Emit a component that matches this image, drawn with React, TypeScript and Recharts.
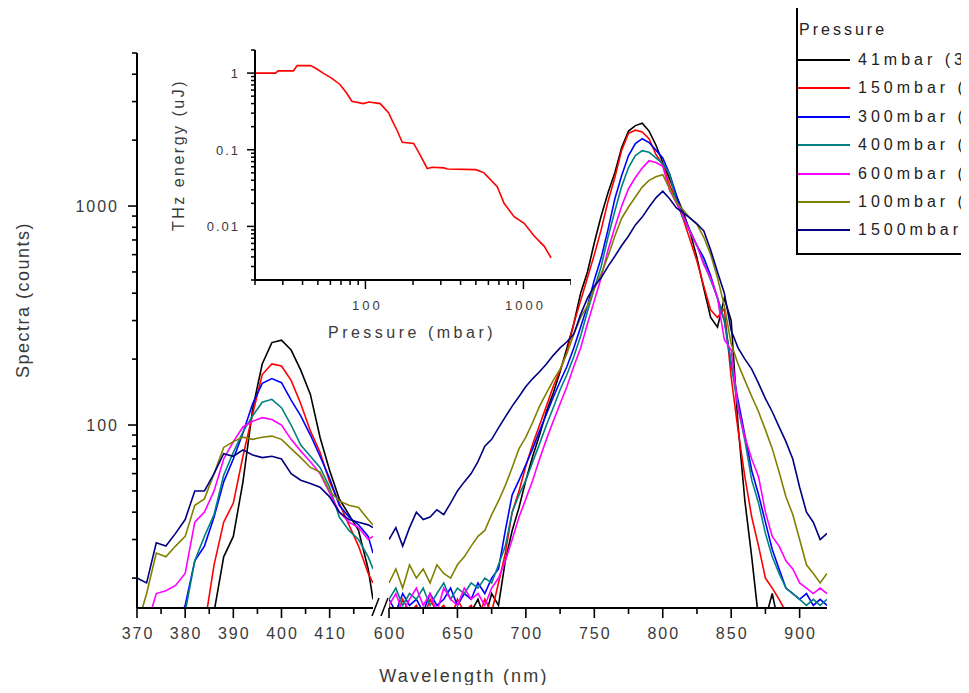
import React from 'react';
import { LineChart, Line, XAxis, YAxis } from 'recharts';

const FONT = '"Liberation Sans", Arial, sans-serif';
const TEXT = '#3a3a3a';

// series, in legend order
const seriesKeys = ['p41', 'p150', 'p300', 'p400', 'p600', 'p1000', 'p1500'];
const seriesNames = ['41mbar (3', '150mbar (', '300mbar (', '400mbar (', '600mbar (', '100mbar (', '1500mbar'];
const seriesColors = ['#000000', '#ff0000', '#0000ff', '#008080', '#ff00ff', '#808000', '#000080'];

// left piece of the broken axis (370-419 nm)
const leftWavelengths = [370, 372, 374, 376, 378, 380, 382, 384, 386, 388, 390, 392, 394, 396, 398, 400, 402, 404, 406, 408, 410, 412, 414, 416, 418, 419];
const left41 = [12, 12, 12, 12, 12, 12, 12, 12, 14, 25, 31, 55, 118, 190, 238, 244, 220, 178, 138, 88, 62, 46, 39, 33, 22, 16];
const left150 = [12, 12, 12, 12, 12, 12, 12, 12, 23, 36, 44, 72, 112, 170, 190, 186, 160, 125, 94, 75, 55, 44, 35, 28, 21, 19];
const left300 = [12, 12, 12, 12, 12, 15, 24, 28, 38, 55, 70, 92, 125, 155, 163, 156, 130, 110, 90, 72, 57, 43, 38, 35, 31, 26];
const left400 = [12, 12, 12, 12, 12, 14, 24, 31, 39, 59, 75, 93, 110, 127, 131, 120, 100, 81, 72, 64, 52, 38, 33, 30, 25, 22];
const left600 = [12, 12, 17, 17.5, 18.5, 21, 36, 40, 50, 70, 84, 98, 104, 108, 106, 100, 86, 76, 68, 60, 49, 40, 36, 34, 30, 31];
const left1000 = [12, 17, 26, 25, 28, 31, 43, 46, 60, 79, 84, 88, 86, 88, 89, 86, 78, 71, 64, 61, 50, 45, 43, 42, 37, 35];
const left1500 = [20, 19, 29, 28, 32, 37, 50, 50, 60, 74, 72, 77, 73, 71, 72, 70, 60, 56, 54, 52, 47, 40, 37, 36, 35, 34];

// right piece (600-920 nm)
const rightWavelengths = [
  600, 605, 610, 615, 620, 625, 630, 635, 640, 645,
  650, 655, 660, 665, 670, 675, 680, 685, 690, 695,
  700, 705, 710, 715, 720, 725, 730, 735, 740, 745,
  750, 755, 760, 765, 770, 775, 780, 785, 790, 795,
  800, 805, 810, 815, 820, 825, 830, 835, 840, 845,
  850, 855, 860, 865, 870, 875, 880, 885, 890, 895,
  900, 905, 910, 915, 920,
];
const right41 = [
  12, 13, 12, 13, 12, 14, 12, 13, 12, 14,
  13, 12, 14, 16, 13, 17, 15, 24, 33, 42,
  56, 72, 90, 115, 140, 175, 225, 290, 400, 500,
  680, 900, 1150, 1420, 1850, 2200, 2330, 2390, 2200, 1900,
  1580, 1330, 1110, 940, 760, 580, 420, 310, 280, 380,
  300, 100, 45, 25, 13, 13, 17, 12, 12, 12,
  12, 12, 12, 12, 12,
];
const right150 = [
  15, 13, 16, 14, 15, 13, 16, 14, 15, 13,
  16, 14, 15, 13, 16, 14, 19, 26, 40, 50,
  65, 82, 100, 122, 150, 178, 215, 290, 370, 470,
  600, 780, 1050, 1350, 1800, 2150, 2220, 2180, 2030, 1720,
  1540, 1250, 1060, 870, 700, 560, 430, 335, 310, 340,
  165, 95, 58, 38, 28, 20, 18, 16, 14, 13,
  13, 14, 12, 13, 12,
];
const right300 = [
  16, 14, 17, 15, 16, 14, 17, 15, 16, 18,
  15, 17, 16, 19, 17, 20, 22, 33, 48, 56,
  66, 78, 94, 112, 134, 158, 185, 225, 280, 350,
  460, 580, 780, 1080, 1380, 1700, 1930, 2030, 1950, 1800,
  1660, 1400, 1120, 900, 770, 660, 580, 480, 380, 300,
  190, 130, 90, 62, 48, 36, 27, 22, 18, 17,
  16, 17, 15, 16, 15,
];
const right400 = [
  16, 18, 15, 17, 16, 18, 15, 17, 19, 16,
  18, 17, 19, 18, 20, 19, 23, 28, 40, 48,
  56, 68, 82, 100, 120, 145, 170, 205, 255, 330,
  420, 530, 720, 950, 1230, 1500, 1700, 1790, 1760, 1660,
  1560, 1400, 1050, 880, 760, 660, 550, 460, 380, 300,
  190, 120, 85, 56, 44, 32, 25, 21, 18, 17,
  16, 15, 16, 15, 16,
];
const right600 = [
  15, 17, 14, 16, 18, 15, 17, 14, 18, 16,
  15, 18, 16, 17, 15, 18, 20, 24, 30, 38,
  46, 56, 70, 86, 104, 125, 150, 185, 225, 290,
  370, 470, 630, 800, 1000, 1200, 1350, 1490, 1610, 1580,
  1520, 1180, 1030, 900, 760, 660, 540, 470, 380, 245,
  220, 120, 88, 70, 58, 40, 31, 28, 24, 22,
  19, 18, 17, 18, 17,
];
const right1000 = [
  19, 22, 18, 23, 20, 22, 19, 23, 21, 20,
  23, 25, 28, 31, 33, 39, 45, 53, 64, 78,
  88, 103, 122, 140, 160, 180, 212, 260, 310, 350,
  420, 490, 590, 730, 880, 990, 1100, 1220, 1310, 1360,
  1390, 1200, 1040, 960, 880, 825, 720, 600, 470, 350,
  235, 190, 160, 135, 115, 95, 78, 61, 47, 39,
  30, 23, 21, 19, 21,
];
const right1500 = [
  30, 34, 28, 34, 40, 37, 38, 41, 39, 44,
  50, 55, 60, 68, 80, 86, 97, 109, 122, 135,
  150, 163, 175, 190, 208, 225, 240, 260, 320, 380,
  430, 470, 530, 590, 660, 730, 820, 890, 990, 1090,
  1170, 1080, 980, 930, 880, 830, 770, 630, 500, 400,
  270, 225, 200, 180, 155, 132, 115, 98, 84, 70,
  52, 40, 36, 30, 32,
];

// inset: THz energy against pressure
const insetPressure = [20, 27, 28, 35, 37, 45, 49, 54, 61, 69, 76, 82, 97, 105, 124, 140, 148, 159, 171, 202, 223, 246, 265, 314, 330, 500, 563, 683, 754, 873, 1010, 1170, 1355, 1495];
const insetEnergy = [1.0, 1.0, 1.07, 1.07, 1.25, 1.25, 1.14, 1.0, 0.86, 0.71, 0.55, 0.43, 0.4, 0.42, 0.4, 0.305, 0.238, 0.177, 0.125, 0.121, 0.084, 0.057, 0.059, 0.058, 0.056, 0.055, 0.05, 0.033, 0.02, 0.0134, 0.011, 0.0075, 0.0055, 0.0039];

// ticks
const yTicks = [20, 30, 40, 50, 60, 70, 80, 90, 100, 200, 300, 400, 500, 600, 700, 800, 900, 1000, 2000, 3000, 4000, 5000];
const leftXTicks = [370, 375, 380, 385, 390, 395, 400, 405, 410, 415];
const rightXTicks = [600, 625, 650, 675, 700, 725, 750, 775, 800, 825, 850, 875, 900];
const insetXTicks = [20, 30, 40, 50, 60, 70, 80, 90, 100, 200, 300, 400, 500, 600, 700, 800, 900, 1000, 2000];
const insetYTicks = [0.002, 0.003, 0.004, 0.005, 0.006, 0.007, 0.008, 0.009, 0.01, 0.02, 0.03, 0.04, 0.05, 0.06, 0.07, 0.08, 0.09, 0.1, 0.2, 0.3, 0.4, 0.5, 0.6, 0.7, 0.8, 0.9, 1, 2];

const leftSeries = [left41, left150, left300, left400, left600, left1000, left1500];
const rightSeries = [right41, right150, right300, right400, right600, right1000, right1500];

function buildRows(wl: number[], series: number[][]) {
  return wl.map((w, i) => {
    const row: any = { w };
    seriesKeys.forEach((k, j) => { row[k] = series[j][i]; });
    return row;
  });
}

const leftData = buildRows(leftWavelengths, leftSeries);
const rightData = buildRows(rightWavelengths, rightSeries);
const insetData = insetPressure.map((p, i) => ({ p, e: insetEnergy[i] }));

const isDecade = (v: number) => Math.abs(Math.log10(v) - Math.round(Math.log10(v))) < 1e-6;

const textStyle = { fontFamily: FONT, fill: TEXT };

const renderXTick = (step: number) => (props: any) => {
  const { x, y, payload } = props;
  const major = payload.value % step === 0;
  return (
    <g>
      <line x1={x} x2={x} y1={y} y2={y + (major ? 10 : 6)} stroke="#000" strokeWidth={1.6} />
      {major && (
        <text x={x + 1} y={y + 31} textAnchor="middle" fontSize={16} letterSpacing={2} {...textStyle}>
          {payload.value}
        </text>
      )}
    </g>
  );
};

const renderYTick = (props: any) => {
  const { x, y, payload } = props;
  const major = isDecade(payload.value);
  return (
    <g>
      <line x1={x} x2={x - (major ? 9 : 5)} y1={y} y2={y} stroke="#000" strokeWidth={1.6} />
      {major && (
        <text x={x - 18} y={y + 6} textAnchor="end" fontSize={16} letterSpacing={2} {...textStyle}>
          {payload.value}
        </text>
      )}
    </g>
  );
};

const renderInsetXTick = (props: any) => {
  const { x, y, payload } = props;
  const major = isDecade(payload.value);
  return (
    <g>
      <line x1={x} x2={x} y1={y} y2={y + (major ? 9 : 5)} stroke="#000" strokeWidth={1.5} />
      {major && payload.value !== 20 && (
        <text x={x + 2} y={y + 30} textAnchor="middle" fontSize={13} letterSpacing={3} {...textStyle}>
          {payload.value}
        </text>
      )}
    </g>
  );
};

const renderInsetYTick = (props: any) => {
  const { x, y, payload } = props;
  const major = isDecade(payload.value);
  return (
    <g>
      <line x1={x} x2={x - (major ? 8 : 4)} y1={y} y2={y} stroke="#000" strokeWidth={1.5} />
      {major && payload.value < 2 && (
        <text x={x - 15} y={y + 5} textAnchor="end" fontSize={13} letterSpacing={2} {...textStyle}>
          {String(payload.value)}
        </text>
      )}
    </g>
  );
};

const axisLine = { stroke: '#000', strokeWidth: 2 };
const Y_DOMAIN: [number, number] = [14.6, 5000];

export default function App() {
  return (
    <div style={{ position: 'relative', margin: -8, width: 969, height: 693, overflow: 'hidden', background: '#fff', fontFamily: FONT }}>
      {/* left piece, carries the Y axis */}
      <div style={{ position: 'absolute', left: 0, top: 0 }}>
        <LineChart width={373} height={693} data={leftData} margin={{ top: 53, right: 0, bottom: 25, left: 0 }}>
          <XAxis
            dataKey="w"
            type="number"
            domain={[370, 419]}
            allowDataOverflow
            ticks={leftXTicks}
            interval={0}
            tickSize={0}
            tickMargin={0}
            tickLine={false}
            axisLine={axisLine}
            height={60}
            tick={renderXTick(10)}
          />
          <YAxis
            type="number"
            scale="log"
            domain={Y_DOMAIN}
            allowDataOverflow
            ticks={yTicks}
            interval={0}
            tickSize={0}
            tickMargin={0}
            tickLine={false}
            axisLine={axisLine}
            width={137}
            tick={renderYTick}
          />
          {seriesKeys.map((k, i) => (
            <Line key={k} type="linear" dataKey={k} stroke={seriesColors[i]} strokeWidth={1.6} dot={false} isAnimationActive={false} />
          ))}
        </LineChart>
      </div>

      {/* right piece; the left margin leaves room for the 600 label */}
      <div style={{ position: 'absolute', left: 369, top: 0 }}>
        <LineChart width={458} height={693} data={rightData} margin={{ top: 53, right: 0, bottom: 25, left: 20 }}>
          <XAxis
            dataKey="w"
            type="number"
            domain={[600, 920]}
            allowDataOverflow
            ticks={rightXTicks}
            interval={0}
            tickSize={0}
            tickMargin={0}
            tickLine={false}
            axisLine={axisLine}
            height={60}
            tick={renderXTick(50)}
          />
          <YAxis hide type="number" scale="log" domain={Y_DOMAIN} allowDataOverflow />
          {seriesKeys.map((k, i) => (
            <Line key={k} type="linear" dataKey={k} stroke={seriesColors[i]} strokeWidth={1.6} dot={false} isAnimationActive={false} />
          ))}
        </LineChart>
      </div>

      {/* inset */}
      <div style={{ position: 'absolute', left: 150, top: 30 }}>
        <LineChart width={421} height={310} data={insetData} margin={{ top: 20, right: 0, bottom: 0, left: 0 }}>
          <XAxis
            dataKey="p"
            type="number"
            scale="log"
            domain={[20, 2000]}
            allowDataOverflow
            ticks={insetXTicks}
            interval={0}
            tickSize={0}
            tickMargin={0}
            tickLine={false}
            axisLine={axisLine}
            height={60}
            tick={renderInsetXTick}
          />
          <YAxis
            type="number"
            scale="log"
            domain={[0.002, 2]}
            allowDataOverflow
            ticks={insetYTicks}
            interval={0}
            tickSize={0}
            tickMargin={0}
            tickLine={false}
            axisLine={axisLine}
            width={105}
            tick={renderInsetYTick}
          />
          <Line type="linear" dataKey="e" stroke="#ff0000" strokeWidth={1.6} dot={false} isAnimationActive={false} />
        </LineChart>
      </div>

      {/* axis titles and the break marks */}
      <svg width={969} height={693} style={{ position: 'absolute', left: 0, top: 0, pointerEvents: 'none' }}>
        <text transform="translate(23,300) rotate(-90)" textAnchor="middle" dominantBaseline="central" fontSize={18} letterSpacing={1.5} {...textStyle}>
          Spectra (counts)
        </text>
        <text x={464} y={682} textAnchor="middle" fontSize={18} letterSpacing={2.2} {...textStyle}>
          Wavelength (nm)
        </text>
        <text transform="translate(178,155) rotate(-90)" textAnchor="middle" dominantBaseline="central" fontSize={16} letterSpacing={2.5} {...textStyle}>
          THz energy (uJ)
        </text>
        <text x={412} y={338} textAnchor="middle" fontSize={16} letterSpacing={3.5} {...textStyle}>
          Pressure (mbar)
        </text>
        <line x1={372} y1={616} x2={379} y2={598} stroke="#000" strokeWidth={1.5} />
        <line x1={381} y1={616} x2={388} y2={598} stroke="#000" strokeWidth={1.5} />
      </svg>

      {/* legend */}
      <div style={{ position: 'absolute', left: 796, top: 5, width: 230, height: 250, border: '2px solid #000', boxSizing: 'border-box', background: '#fff' }}>
        <div style={{ position: 'absolute', left: 1, top: 13, height: 20, lineHeight: '20px', fontSize: 16, letterSpacing: 3, color: '#222', whiteSpace: 'nowrap' }}>
          Pressure
        </div>
        {seriesNames.map((name, i) => (
          <div
            key={name}
            style={{ position: 'absolute', left: 0, top: 43 + i * 28.4, height: 20, display: 'flex', alignItems: 'center', whiteSpace: 'nowrap' }}
          >
            <div style={{ width: 52, height: 2, background: seriesColors[i] }} />
            <span style={{ marginLeft: 8, fontSize: 16, letterSpacing: 4, color: '#222', lineHeight: '20px' }}>{name}</span>
          </div>
        ))}
      </div>
    </div>
  );
}
